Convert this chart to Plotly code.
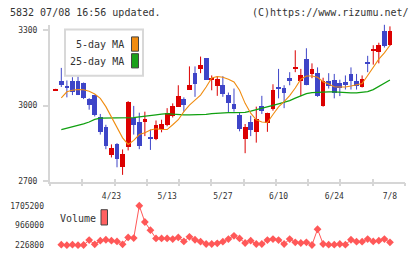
import plotly.graph_objects as go

# ---------------- data ----------------
dates = ["4/9", "4/10", "4/11", "4/12", "4/15", "4/16", "4/17", "4/18", "4/19", "4/22",
         "4/23", "4/24", "4/25", "4/26", "4/30", "5/1", "5/7", "5/8", "5/9", "5/10",
         "5/13", "5/14", "5/15", "5/16", "5/17", "5/20", "5/21", "5/22", "5/23", "5/24",
         "5/27", "5/28", "5/29", "5/30", "5/31", "6/3", "6/4", "6/5", "6/6", "6/7",
         "6/10", "6/11", "6/12", "6/13", "6/14", "6/17", "6/18", "6/19", "6/20", "6/21",
         "6/24", "6/25", "6/26", "6/27", "6/28", "7/1", "7/2", "7/3", "7/4", "7/5",
         "7/8"]

opens = [3064, 3100, 3077, 3098, 3098, 3091, 3029, 3042, 2957, 2915,
         2807, 2850, 2759, 2837, 2954, 2935, 2935, 2873, 2868, 2907,
         2924, 2960, 2996, 3029, 3065, 3130, 3146, 3189, 3106, 3081,
         3083, 3042, 3009, 2966, 2870, 2935, 2898, 3000, 2933, 2987,
         3075, 3070, 3111, 3151, 3100, 3185, 3126, 3133, 2999, 3098,
         3103, 3090, 3094, 3126, 3098, 3074, 3172, 3218, 3214, 3298,
         3241]
highs = [3067, 3150, 3100, 3113, 3116, 3092, 3030, 3043, 2967, 2924,
         2846, 2851, 2826, 3018, 2999, 2972, 2976, 2905, 2941, 2944,
         2990, 3009, 3081, 3033, 3156, 3156, 3195, 3189, 3120, 3117,
         3117, 3052, 3068, 2972, 2927, 2960, 2996, 3039, 2972, 3085,
         3146, 3081, 3133, 3220, 3146, 3228, 3168, 3152, 3111, 3129,
         3126, 3103, 3120, 3152, 3126, 3120, 3198, 3240, 3250, 3322,
         3315]
lows = [3063, 3074, 3033, 3042, 3042, 3026, 2984, 2957, 2885, 2827,
        2794, 2755, 2725, 2822, 2885, 2827, 2879, 2824, 2863, 2894,
        2918, 2953, 2996, 2976, 3065, 3035, 3129, 3103, 3061, 3039,
        3035, 2973, 2976, 2898, 2811, 2879, 2853, 2967, 2896, 2980,
        3029, 2990, 3081, 3133, 3038, 3081, 3109, 3035, 2996, 3068,
        3029, 3038, 3064, 3064, 3064, 3072, 3133, 3163, 3168, 3231,
        3237]
closes = [3066, 3083, 3075, 3055, 3045, 3032, 3006, 2963, 2896, 2842,
          2833, 2791, 2810, 3018, 2924, 2840, 2950, 2871, 2924, 2927,
          2972, 2999, 3038, 3006, 3085, 3087, 3162, 3103, 3109, 3109,
          3048, 3013, 2987, 2909, 2918, 2905, 2950, 2979, 2972, 3064,
          3073, 3050, 3100, 3156, 3122, 3085, 3146, 3038, 3098, 3081,
          3051, 3070, 3087, 3100, 3078, 3107, 3170, 3228, 3244, 3237,
          3298]

# moving averages and volume start at the second date
ma5 = [3031, 3055, 3061, 3064, 3063, 3057, 3046, 3029, 2996, 2954,
       2911, 2872, 2846, 2862, 2885, 2892, 2903, 2908, 2905, 2905,
       2924, 2944, 2976, 3002, 3022, 3042, 3074, 3110, 3116, 3113,
       3105, 3094, 3061, 3009, 2970, 2944, 2935, 2933, 2965, 2995,
       3016, 3040, 3070, 3105, 3118, 3118, 3113, 3095, 3086, 3075,
       3074, 3074, 3078, 3082, 3088, 3120, 3155, 3185, 3210, 3240]
ma25 = [2905, 2910, 2916, 2922, 2928, 2935, 2945, 2950, 2950, 2951,
        2953, 2952, 2950, 2952, 2955, 2957, 2960, 2963, 2966, 2968,
        2966, 2963, 2963, 2963, 2963, 2963, 2965, 2968, 2970, 2971,
        2972, 2972, 2972, 2973, 2978, 2983, 2988, 2995, 3001, 3007,
        3013, 3020, 3030, 3040, 3048, 3052, 3054, 3055, 3055, 3055,
        3053, 3051, 3051, 3051, 3052, 3056, 3064, 3077, 3088, 3102]
volume = [245280, 226800, 245280, 226800, 232960, 417760, 257600, 393120, 430080, 393120,
          368480, 257600, 516320, 491680, 1705200, 1095360, 787360, 479360, 479360, 479360,
          454720, 516320, 368480, 540960, 430080, 356160, 269920, 269920, 294560, 356160,
          454720, 577920, 479360, 306880, 393120, 269920, 269920, 417760, 454720, 417760,
          269920, 454720, 331520, 306880, 331520, 232960, 824320, 269920, 245280, 245280,
          269920, 245280, 430080, 356160, 356160, 454720, 368480, 393120, 454720, 331520]

date_ticks = ["4/23", "5/13", "5/27", "6/10", "6/24", "7/8"]
price_ticks = [2700, 3000, 3300]
volume_ticks = [226800, 966000, 1705200]

# ---------------- styling ----------------
W, H = 420, 259
RED = "#dc0000"
BLUE = "#3e45c8"
ORANGE = "#f08c10"
GREEN = "#10a010"
VOLC = "#ff5858"
AXC = "#d6d6d6"
TXT = "#333333"
FONT = "DejaVu Sans Mono"


def px_x(p):
    return p / W


def px_y(p):
    return 1 - p / H


up = [c >= o for o, c in zip(opens, closes)]
colors = [RED if u else BLUE for u in up]
min_body = 6
body_h = [max(abs(c - o), min_body) for o, c in zip(opens, closes)]
body_base = [min(o, c) - (h - abs(c - o)) / 2 for o, c, h in zip(opens, closes, body_h)]

fig = go.Figure()

# bodies first so the category order follows the dates
fig.add_trace(go.Bar(x=dates, y=body_h, base=body_base, width=0.85,
                     marker=dict(color=colors, line=dict(width=0)),
                     xaxis="x", yaxis="y", showlegend=False))

# wicks
for col, flag in ((RED, True), (BLUE, False)):
    wx, wy = [], []
    for d, hi, lo, u in zip(dates, highs, lows, up):
        if u == flag:
            wx += [d, d, None]
            wy += [lo, hi, None]
    fig.add_trace(go.Scatter(x=wx, y=wy, mode="lines", line=dict(color=col, width=1),
                             xaxis="x", yaxis="y", showlegend=False, hoverinfo="skip"))

# moving averages
fig.add_trace(go.Scatter(x=dates[1:], y=ma25, mode="lines", line=dict(color=GREEN, width=1.3),
                         xaxis="x", yaxis="y", showlegend=False))
fig.add_trace(go.Scatter(x=dates[1:], y=ma5, mode="lines", line=dict(color=ORANGE, width=1.1),
                         xaxis="x", yaxis="y", showlegend=False))

# volume
fig.add_trace(go.Scatter(x=dates[1:], y=volume, mode="lines+markers",
                         line=dict(color=VOLC, width=1),
                         marker=dict(symbol="diamond", size=6, color=VOLC),
                         xaxis="x2", yaxis="y2", showlegend=False))

# dummy traces to register tick-mark overlay axes
fig.add_trace(go.Scatter(x=[None], y=[None], xaxis="x3", yaxis="y", showlegend=False, hoverinfo="skip"))
fig.add_trace(go.Scatter(x=[None], y=[None], xaxis="x4", yaxis="y", showlegend=False, hoverinfo="skip"))

xdom = [px_x(50), px_x(405)]
xrange_ = [-1.03, 62.7]

fig.update_layout(
    width=W, height=H,
    margin=dict(l=0, r=0, t=0, b=0),
    paper_bgcolor="white", plot_bgcolor="white",
    bargap=0,
    xaxis=dict(type="category", categoryorder="array", categoryarray=dates,
               domain=xdom, range=xrange_, anchor="y",
               tickmode="array", tickvals=date_ticks, ticktext=date_ticks,
               ticks="", ticklabelstandoff=5, showgrid=False, zeroline=False,
               showline=True, linecolor=AXC, linewidth=2,
               tickfont=dict(family=FONT, size=8, color=TXT)),
    yaxis=dict(domain=[px_y(185), px_y(25)], range=[2696, 3322], anchor="x",
               tickmode="array", tickvals=price_ticks,
               ticks="outside", ticklen=5, tickwidth=2, tickcolor=AXC,
               ticklabelstandoff=4,
               showline=True, linecolor=AXC, linewidth=2,
               showgrid=False, zeroline=False,
               tickfont=dict(family=FONT, size=8, color=TXT)),
    xaxis3=dict(overlaying="x", anchor="y", range=[0, 11], tickmode="linear", tick0=0, dtick=1,
                ticks="outside", ticklen=3, tickwidth=2, tickcolor=AXC,
                showticklabels=False, showgrid=False, zeroline=False, showline=False),
    xaxis4=dict(overlaying="x", anchor="y", range=[0, 11], tickmode="linear", tick0=0, dtick=1,
                ticks="inside", ticklen=3, tickwidth=2, tickcolor=AXC,
                showticklabels=False, showgrid=False, zeroline=False, showline=False),
    xaxis2=dict(type="category", categoryorder="array", categoryarray=dates,
                domain=xdom, range=xrange_, anchor="y2", visible=False),
    yaxis2=dict(domain=[px_y(255), px_y(203)], range=[5040, 1926960], anchor="x2",
                tickmode="array", tickvals=volume_ticks, ticktext=[str(v) for v in volume_ticks],
                ticks="", ticklabelstandoff=5, showline=False, showgrid=False, zeroline=False,
                tickfont=dict(family=FONT, size=8, color=TXT)),
    showlegend=False,
)

annotations = [
    dict(text="5832 07/08 16:56 updated.", x=px_x(8), y=px_y(12.5), xanchor="left", yanchor="middle",
         font=dict(family=FONT, size=10, color=TXT)),
    dict(text="(C)https://www.rizumu.net/", x=px_x(411), y=px_y(12.5), xanchor="right", yanchor="middle",
         font=dict(family=FONT, size=10, color=TXT)),
    dict(text="5-day MA", x=px_x(126), y=px_y(45.5), xanchor="right", yanchor="middle",
         font=dict(family=FONT, size=10, color=TXT)),
    dict(text="25-day MA", x=px_x(126), y=px_y(62), xanchor="right", yanchor="middle",
         font=dict(family=FONT, size=10, color=TXT)),
    dict(text="Volume", x=px_x(58), y=px_y(222), xanchor="left", yanchor="middle",
         font=dict(family=FONT, size=10, color=TXT)),
]
for a in annotations:
    a.update(xref="paper", yref="paper", showarrow=False)
fig.update_layout(annotations=annotations)

shapes = [
    dict(type="rect", x0=px_x(65), x1=px_x(143), y0=px_y(77), y1=px_y(30),
         line=dict(color="#d8d8d8", width=2), fillcolor="white"),
    dict(type="rect", x0=px_x(131.5), x1=px_x(138.5), y0=px_y(52), y1=px_y(37.5),
         line=dict(color="#444444", width=1), fillcolor=ORANGE),
    dict(type="rect", x0=px_x(131.5), x1=px_x(138.5), y0=px_y(69), y1=px_y(54.5),
         line=dict(color="#444444", width=1), fillcolor="#1aa01a"),
    dict(type="rect", x0=px_x(101), x1=px_x(107.5), y0=px_y(228.5), y1=px_y(213),
         line=dict(color="#444444", width=1), fillcolor="#ff6060"),
]
for s in shapes:
    s.update(xref="paper", yref="paper", layer="above")
fig.update_layout(shapes=shapes)

fig.write_html("out.html")
